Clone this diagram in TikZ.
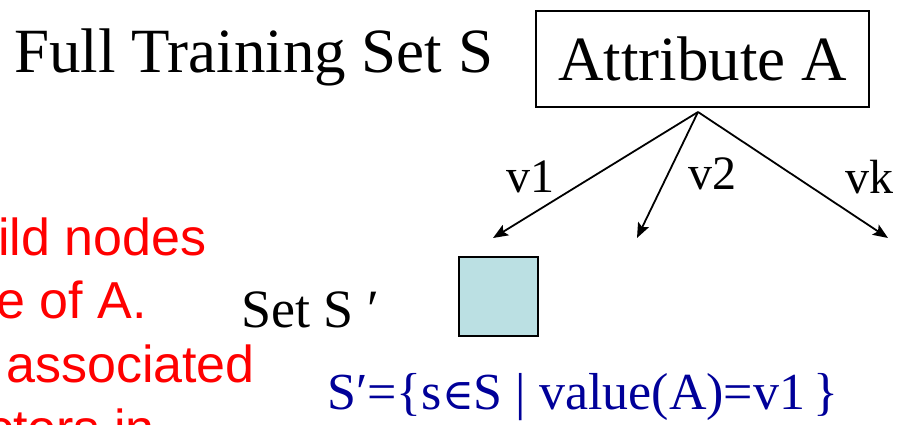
\documentclass[tikz,border=0pt]{standalone}
\usepackage{fontspec}
\setmainfont{Liberation Serif}
\newfontfamily\notefont{Liberation Sans}
\newfontfamily\symfont{DejaVu Serif}
\usetikzlibrary{positioning,arrows.meta}
\definecolor{subset}{RGB}{0,0,153}
\definecolor{childfill}{RGB}{187,224,227}
\definecolor{note}{RGB}{255,0,0}

\begin{document}
\begin{tikzpicture}[
    x=1pt,y=-1pt,
    bigtext/.style={font=\fontsize{63}{63}\selectfont},
    attrbox/.style={draw,line width=2pt,minimum width=333pt,minimum height=96pt,inner sep=0pt,bigtext},
    childbox/.style={draw,line width=2pt,fill=childfill,minimum size=79pt,inner sep=0pt},
    edgelabel/.style={anchor=base,inner sep=0pt,font=\fontsize{48}{48}\selectfont},
    notetext/.style={anchor=base west,inner sep=0pt,text=note,font=\notefont\fontsize{52}{52}\selectfont},
    arrow/.style={->,>={Stealth[length=15pt,width=12pt,inset=3pt]},line width=1.8pt}
  ]
    \useasboundingbox (0,0) rectangle (904,425);
    \clip (0,0) rectangle (904,425);

    % top row
    \node[bigtext,anchor=base west,inner sep=0pt] (training) at (14,73) {Full Training Set S};
    \node[attrbox] (attr) at (702.5,59) {Attribute A};

    % branches
    \coordinate (split) at (698,112);
    \coordinate (end1) at (493,238);
    \coordinate (end2) at (637,238);
    \coordinate (endk) at (888,238);
    \draw[arrow] (split) -- (end1);
    \draw[arrow] (split) -- (end2);
    \draw[arrow] (split) -- (endk);
    \node[edgelabel] (lab1) at (530,192) {v1};
    \node[edgelabel] (lab2) at (712,189) {v2};
    \node[edgelabel] (labk) at (869,193) {vk};

    % child node for v1
    \node[childbox] (child) at (498.5,296.5) {};
    \node[anchor=base west,inner sep=0pt,font=\fontsize{54}{54}\selectfont] (setS) at (241,327) {Set S ′};
    \node[anchor=base west,inner sep=0pt,text=subset,font=\fontsize{52}{52}\selectfont] (subset) at (327,409)
      {S′=\{s{\symfont\fontsize{43}{43}\selectfont ∈}S | value(A)=v1\,\}};

    % note, cut at the left edge
    \node[notetext] (note1) at (-2,255) {ild nodes};
    \node[notetext] (note2) at (-4,318) {e of A.};
    \node[notetext] (note3) at (6,382) {associated};
    \node[notetext] (note4) at (-13,446) {ctors in};
  \end{tikzpicture}
\end{document}
